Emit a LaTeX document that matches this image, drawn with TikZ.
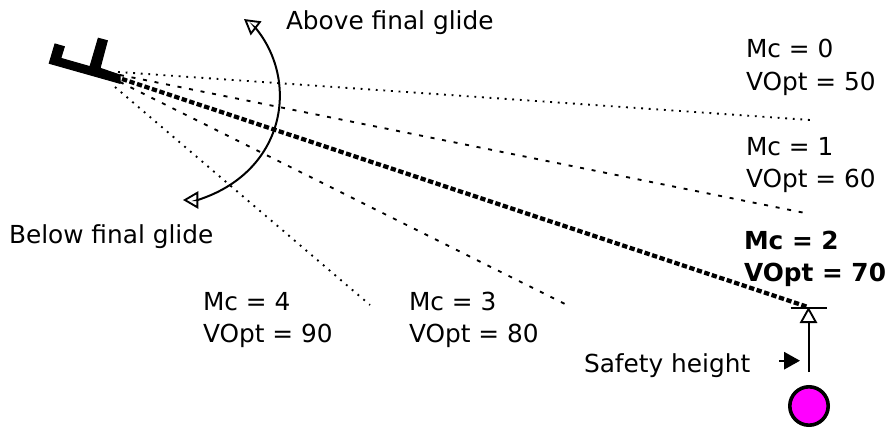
\documentclass[tikz,border=0pt]{standalone}
\usepackage{fontspec}
\setmainfont{DejaVu Sans}
\usetikzlibrary{arrows.meta}
\definecolor{ballcol}{RGB}{255,0,255}
\tikzset{
  lbl/.style={anchor=base west,inner sep=0pt,outer sep=0pt,font=\fontsize{18.6pt}{22pt}\selectfont},
  bold/.style={lbl,font=\fontsize{18.6pt}{22pt}\selectfont\bfseries},
  dotline/.style={line width=1.4pt,dash pattern=on 1.4pt off 4.3pt},
  dashline/.style={line width=1.4pt,dash pattern=on 3pt off 5.8pt},
  thickline/.style={line width=3.2pt,dash pattern=on 4pt off 1.9pt},
  thin line/.style={line width=1.5pt},
  opentip/.style={-{Triangle[open,length=12pt,width=13pt,line width=1.4pt]}},
  bothtips/.style={{Triangle[open,length=11.5pt,width=13pt,line width=1.4pt]}-{Triangle[open,length=11.5pt,width=13pt,line width=1.4pt]}},
  solidtip/.style={-{Triangle[length=12pt,width=13pt]}},
}
\begin{document}
\begin{tikzpicture}[x=0.75pt,y=-0.75pt]
\useasboundingbox (0,0) rectangle (888,428);
% glider
\filldraw[black,line width=0.8pt,line join=miter] (49.3,63.3) -- (55,44) -- (64.3,46.7) -- (60.7,58.3) -- (90,66.7) -- (98.3,38.3) -- (107.3,40.7) -- (100,68.3) -- (120,75) -- (120,83.3) -- cycle;
% end points
\coordinate (s0) at (118,72);
\coordinate (s1) at (120,75);
\coordinate (s2) at (122,79);
\coordinate (s3) at (120,82);
\coordinate (s4) at (115,87);
\coordinate (e0) at (810,120);
\coordinate (e1) at (810,214);
\coordinate (e2) at (808,307);
\coordinate (e3) at (565,304);
\coordinate (e4) at (370,305);
\draw[dotline] (s0) -- (e0);
\draw[dashline] (s1) -- (e1);
\draw[thickline] (s2) -- (e2);
\draw[dashline] (s3) -- (e3);
\draw[dotline] (s4) -- (e4);
% glide arc
\coordinate (arcL) at (183,200);
\coordinate (arcLb) at (197.7,200);
\coordinate (arcUb) at (255.6,28);
\coordinate (arcU) at (244,19);
\draw[thin line,bothtips] (arcL) -- (arcLb) .. controls (285,172) and (300,82) .. (arcUb) -- (arcU);
% safety height
\node[circle,draw=black,line width=2.7pt,fill=ballcol,minimum size=28.8pt,inner sep=0pt] (ball) at (809,406) {};
\coordinate (barL) at (790.7,308);
\coordinate (barR) at (826.7,308);
\draw[thin line] (barL) -- (barR);
\coordinate (vb) at (808.5,372);
\coordinate (vt) at (808.5,307);
\draw[thin line,opentip] (vb) -- (vt);
\coordinate (sa) at (779,360.7);
\coordinate (sb) at (800,360.7);
\draw[thin line,solidtip] (sa) -- (sb);
% labels
\node[lbl] (above) at (286,30) {Above final glide};
\node[lbl] (below) at (9,243) {Below final glide};
\node[lbl] (safety) at (584,372) {Safety height};
\node[lbl] (m0) at (746,58) {Mc = 0};
\node[lbl] (v0) at (746,90) {VOpt = 50};
\node[lbl] (m1) at (746,155) {Mc = 1};
\node[lbl] (v1) at (746,187) {VOpt = 60};
\node[bold] (m2) at (744,249) {Mc = 2};
\node[bold] (v2) at (744,281) {VOpt = 70};
\node[lbl] (m3) at (409,310) {Mc = 3};
\node[lbl] (v3) at (409,342) {VOpt = 80};
\node[lbl] (m4) at (203,310) {Mc = 4};
\node[lbl] (v4) at (203,342) {VOpt = 90};
\end{tikzpicture}
\end{document}
